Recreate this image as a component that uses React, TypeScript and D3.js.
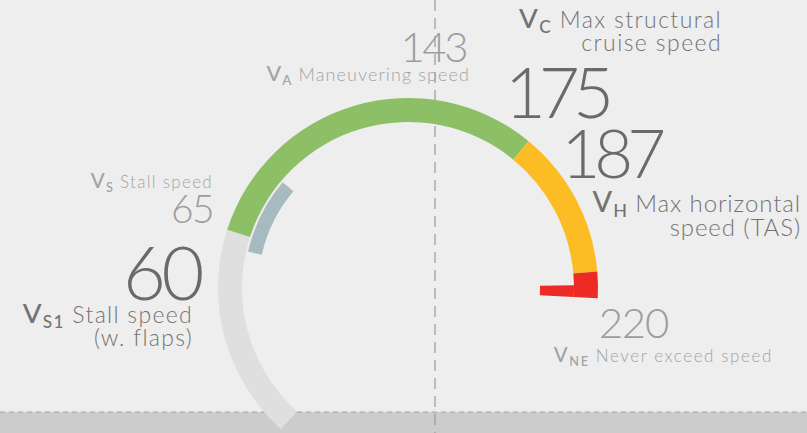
import React from "react";
import * as d3 from "d3";

// speed bands (kt), drawn along the arc
const bandNames = ["Below stall", "Normal", "Caution", "Never exceed"];
const bandStart = [0, 65, 175, 220];
const bandEnd = [65, 175, 220, 228];
const bandColors = ["#dfdfdf", "#8cbf66", "#fbbc24", "#ed2b24"];
const flapRange = [60, 87];

// reference speeds and their labels
const speedValues = [60, 65, 143, 175, 187, 220];
const speedCodes = ["S1", "S", "A", "C", "H", "NE"];
const speedNames = [
  ["Stall speed", "(w. flaps)"],
  ["Stall speed"],
  ["Maneuvering speed"],
  ["Max structural", "cruise speed"],
  ["Max horizontal", "speed (TAS)"],
  ["Never exceed speed"],
];

const width = 807,
  height = 433;
const cx = 408,
  cy = 288;
const outerR = 190,
  innerR = 166;

const FONT = "Lato, 'Open Sans', sans-serif";

// label layout, one entry per speed
const layout = [
  { nx: 200, ny: 300, ns: 74, nc: "#6a6a6a", ls0: -0.06, lx: 193, ly: 323, ls: 23, lc: "#737373", sp: 1.3 },
  { nx: 213, ny: 223, ns: 39, nc: "#9d9d9d", ls0: -0.04, lx: 213, ly: 188, ls: 17, lc: "#a3a3a3", sp: 1.3 },
  { nx: 466, ny: 62, ns: 42, nc: "#9d9d9d", ls0: -0.06, lx: 470, ly: 81, ls: 18, lc: "#a3a3a3", sp: 1.1 },
  { nx: 607, ny: 118, ns: 71, nc: "#6a6a6a", ls0: -0.1, lx: 722, ly: 28, ls: 23, lc: "#737373", sp: 1.4 },
  { nx: 660, ny: 178, ns: 67, nc: "#6a6a6a", ls0: -0.09, lx: 801, ly: 212, ls: 24, lc: "#737373", sp: 0.9 },
  { nx: 668, ny: 338, ns: 42, nc: "#9d9d9d", ls0: -0.03, lx: 773, ly: 362, ls: 17, lc: "#a3a3a3", sp: 1.6 },
];

const VLabel = ({ x, y, code, lines, size, color, sp }) => (
  <text
    x={x}
    y={y}
    textAnchor="end"
    fontFamily={FONT}
    fill={color}
    fontWeight={300}
    fontSize={size}
    letterSpacing={sp}
  >
    <tspan fontWeight={500} fontSize={size * 1.2}>V</tspan>
    <tspan fontWeight={500} fontSize={size * 0.75} dy={size * 0.22}>{code}</tspan>
    <tspan dy={-size * 0.22}>{" " + lines[0]}</tspan>
    {lines.slice(1).map((l, i) => (
      <tspan key={i} x={x} dy={size * 0.98}>{l}</tspan>
    ))}
  </text>
);

export default function App() {
  const angle = d3
    .scaleLinear()
    .domain([0, 220])
    .range([(-138 * Math.PI) / 180, (85 * Math.PI) / 180]);

  const arc = d3.arc().innerRadius(innerR).outerRadius(outerR);
  const flapArc = d3
    .arc()
    .innerRadius(innerR - 16)
    .outerRadius(innerR - 2)
    .startAngle(angle(flapRange[0]))
    .endAngle(angle(flapRange[1]));
  const neBar = d3
    .arc()
    .innerRadius(innerR - 34)
    .outerRadius(innerR)
    .startAngle(angle(bandEnd[3] - 4))
    .endAngle(angle(bandEnd[3]));

  return (
    <svg
      width={width}
      height={height}
      style={{ position: "absolute", left: 0, top: 0, display: "block" }}
    >
      <rect width={width} height={height} fill="#eeeeee" />
      <rect y={412} width={width} height={height - 412} fill="#cccccc" />
      <line x1={0} x2={width} y1={412} y2={412} stroke="#a2a2a2" strokeWidth={1.2} strokeDasharray="5,4" />
      <line x1={435} x2={435} y1={0} y2={height} stroke="#9a9a9a" strokeWidth={1.2} strokeDasharray="11,7" />

      <g transform={`translate(${cx},${cy})`}>
        {bandNames.map((name, i) => (
          <path
            key={name}
            d={arc({ startAngle: angle(bandStart[i]), endAngle: angle(bandEnd[i]) })}
            fill={bandColors[i]}
          />
        ))}
        <path d={flapArc()} fill="#a7b9c1" />
        <path d={neBar()} fill={bandColors[3]} />
      </g>

      {speedValues.map((v, i) => {
        const L = layout[i];
        return (
          <g key={v}>
            <text
              x={L.nx}
              y={L.ny}
              textAnchor="end"
              fontFamily={FONT}
              fontWeight={300}
              fontSize={L.ns}
              fill={L.nc}
              letterSpacing={L.ns * L.ls0}
            >
              {v}
            </text>
            <VLabel
              x={L.lx}
              y={L.ly}
              code={speedCodes[i]}
              lines={speedNames[i]}
              size={L.ls}
              color={L.lc}
              sp={L.sp}
            />
          </g>
        );
      })}
    </svg>
  );
}
